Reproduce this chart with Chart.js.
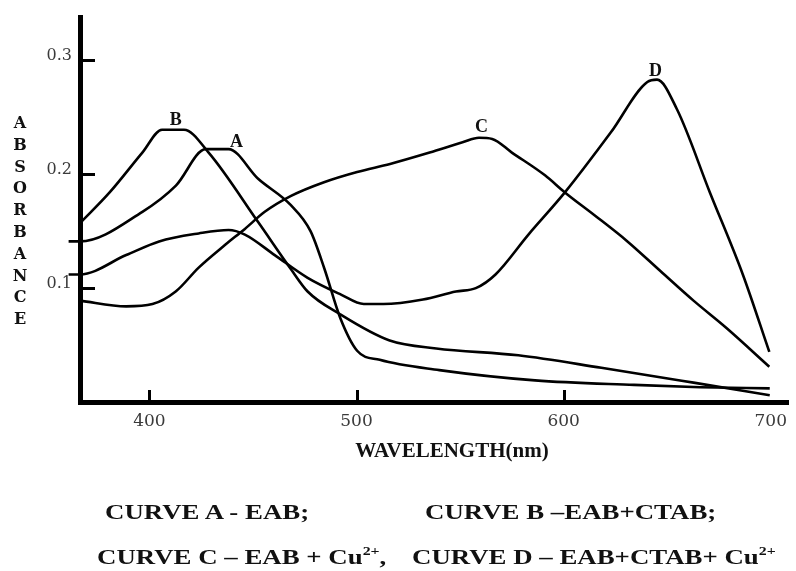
<!DOCTYPE html>
<html>
<head>
<meta charset="utf-8">
<script src="https://cdn.jsdelivr.net/npm/chart.js@4.4.1/dist/chart.umd.min.js"></script>
<style>
  html, body { margin: 0; padding: 0; background: #fff; }
  #wrap { position: relative; width: 796px; height: 571px; overflow: hidden; }
  #chartAbs { position: absolute; left: 0; top: 0; }
  .cap {
    position: absolute;
    font: bold 22px "Liberation Serif", "Times New Roman", serif;
    line-height: 22px;
    color: #111;
    white-space: nowrap;
    transform-origin: 0 0;
    transform: scaleX(1.22);
  }
  .cap sup { font-size: 13px; vertical-align: 0; position: relative; top: -9px; }
</style>
</head>
<body>
<div id="wrap">
  <canvas id="chartAbs" width="796" height="571"></canvas>
  <div class="cap" style="left:105px; top:501px;">CURVE A - EAB;</div>
  <div class="cap" style="left:425px; top:501px;">CURVE B –EAB+CTAB;</div>
  <div class="cap" style="left:97px; top:546px;">CURVE C – EAB + Cu<sup>2+</sup>,</div>
  <div class="cap" style="left:412px; top:546px;">CURVE D – EAB+CTAB+ Cu<sup>2+</sup></div>
</div>

<script>
// ---------------------------------------------
// 데이터
// ---------------------------------------------
const wavelengthA = [361, 366.5, 396.6, 412.8, 427.2, 438.2, 452.5, 468.2, 477.8, 484.5, 492.1, 500.3, 511.2, 540, 586.2, 634, 666, 699.5];
const absorbA     = [0.141, 0.141, 0.167, 0.190, 0.222, 0.222, 0.196, 0.173, 0.150, 0.117, 0.074, 0.045, 0.037, 0.028, 0.019, 0.015, 0.013, 0.012];

const wavelengthB = [366.5, 380.8, 396.6, 406.1, 416.7, 428.6, 452.5, 468.2, 476.4, 492.1, 516, 538.5, 578.1, 618.2, 662.7, 699.5];
const absorbB     = [0.157, 0.184, 0.219, 0.239, 0.239, 0.219, 0.158, 0.117, 0.097, 0.077, 0.054, 0.047, 0.041, 0.030, 0.017, 0.006];

const wavelengthC = [366.5, 388.8, 401.5, 412.7, 423.8, 436.6, 446.1, 455.7, 468.4, 484.3, 500.3, 516.2, 535.3, 551.2, 559.1, 565.5, 575, 591, 600.6, 614.9, 630.8, 646.7, 662.7, 678.6, 699.3];
const absorbC     = [0.089, 0.084, 0.086, 0.097, 0.118, 0.138, 0.152, 0.167, 0.181, 0.193, 0.202, 0.209, 0.219, 0.228, 0.232, 0.231, 0.219, 0.199, 0.184, 0.164, 0.141, 0.115, 0.089, 0.065, 0.031];

const wavelengthD = [361, 366.5, 388.8, 404.7, 423.8, 438.2, 446.1, 460.5, 476.4, 492.3, 503.5, 513, 532.1, 548, 557.6, 567.1, 583, 600.6, 622.9, 640.4, 645.1, 654.7, 670.6, 686.5, 699.3];
const absorbD     = [0.112, 0.112, 0.129, 0.141, 0.148, 0.151, 0.147, 0.129, 0.109, 0.0945, 0.086, 0.086, 0.090, 0.097, 0.100, 0.112, 0.147, 0.184, 0.237, 0.281, 0.283, 0.257, 0.184, 0.112, 0.044];

// 축 눈금
const xTicks = [400, 500, 600, 700];
const xTickMarks = [400, 500, 600];
const yTicks = [0.1, 0.2, 0.3];

// 곡선 이름표 (파장, 흡광도)
const curveTags = ["A", "B", "C", "D"];
const tagWavelength = [442.1, 412.7, 560.4, 644.4];
const tagAbsorb = [0.228, 0.247, 0.241, 0.290];

const xTitle = "WAVELENGTH(nm)";
const yTitle = "ABSORBANCE";

// ---------------------------------------------
// 보조 함수
// ---------------------------------------------
function toPoints(xs, ys) {
  return xs.map((x, i) => ({ x: x, y: ys[i] }));
}

function curve(label, xs, ys) {
  return {
    label: label,
    data: toPoints(xs, ys),
    borderColor: "#000",
    borderWidth: 2.6,
    pointRadius: 0,
    fill: false,
    cubicInterpolationMode: "monotone",
    // 원본처럼 왼쪽 축 밖으로 살짝 나온 선 허용
    clip: { left: 14, top: 0, right: 0, bottom: 0 }
  };
}

// 안쪽 눈금, 곡선 이름, 축 제목
const decorPlugin = {
  id: "decor",
  afterDraw(chart) {
    const { ctx, chartArea: a, scales: { x, y } } = chart;
    ctx.save();

    ctx.strokeStyle = "#000";
    ctx.lineWidth = 3;
    xTickMarks.forEach(v => {
      const px = Math.round(x.getPixelForValue(v)) + 0.5;
      ctx.beginPath();
      ctx.moveTo(px, a.bottom);
      ctx.lineTo(px, a.bottom - 12);
      ctx.stroke();
    });
    yTicks.forEach(v => {
      const py = Math.round(y.getPixelForValue(v)) + 0.5;
      ctx.beginPath();
      ctx.moveTo(a.left, py);
      ctx.lineTo(a.left + 15, py);
      ctx.stroke();
    });

    ctx.fillStyle = "#111";
    ctx.font = 'bold 18px "Liberation Serif"';
    ctx.textAlign = "center";
    ctx.textBaseline = "middle";
    curveTags.forEach((t, i) => {
      ctx.fillText(t, x.getPixelForValue(tagWavelength[i]), y.getPixelForValue(tagAbsorb[i]));
    });

    // x축 제목
    ctx.textBaseline = "alphabetic";
    ctx.font = 'bold 21px "Liberation Serif"';
    ctx.fillText(xTitle, 452, 457);

    // y축 제목 (세로로 한 글자씩)
    ctx.font = 'bold 16px "DejaVu Serif"';
    yTitle.split("").forEach((ch, i) => {
      ctx.fillText(ch, 20, 128 + i * 21.8);
    });

    ctx.restore();
  }
};

// ---------------------------------------------
// 차트
// ---------------------------------------------
const absChart = new Chart(document.getElementById("chartAbs"), {
  type: "line",
  data: {
    datasets: [
      curve("A", wavelengthA, absorbA),
      curve("B", wavelengthB, absorbB),
      curve("C", wavelengthC, absorbC),
      curve("D", wavelengthD, absorbD)
    ]
  },
  options: {
    responsive: false,
    animation: false,
    devicePixelRatio: 1,
    layout: { autoPadding: false, padding: { top: 14, left: 0, right: 0, bottom: 0 } },
    plugins: {
      legend: { display: false },
      tooltip: { enabled: false }
    },
    scales: {
      x: {
        type: "linear",
        min: 366.5,
        max: 708.5,
        afterBuildTicks: s => { s.ticks = xTicks.map(v => ({ value: v })); },
        afterFit: s => { s.height = 169; },
        grid: { display: false, drawTicks: false },
        border: { color: "#000", width: 5 },
        ticks: {
          font: { family: "DejaVu Serif", size: 17 },
          color: "#3a3a3a",
          padding: 9,
          maxRotation: 0,
          autoSkip: false
        }
      },
      y: {
        min: 0,
        max: 0.3375,
        afterBuildTicks: s => { s.ticks = yTicks.map(v => ({ value: v })); },
        afterFit: s => { s.width = 80; },
        grid: { display: false, drawTicks: false },
        border: { color: "#000", width: 5 },
        ticks: {
          font: { family: "DejaVu Serif", size: 16 },
          color: "#3a3a3a",
          padding: 8,
          labelOffset: -4,
          callback: v => v.toFixed(1)
        }
      }
    }
  },
  plugins: [decorPlugin]
});
</script>
</body>
</html>
